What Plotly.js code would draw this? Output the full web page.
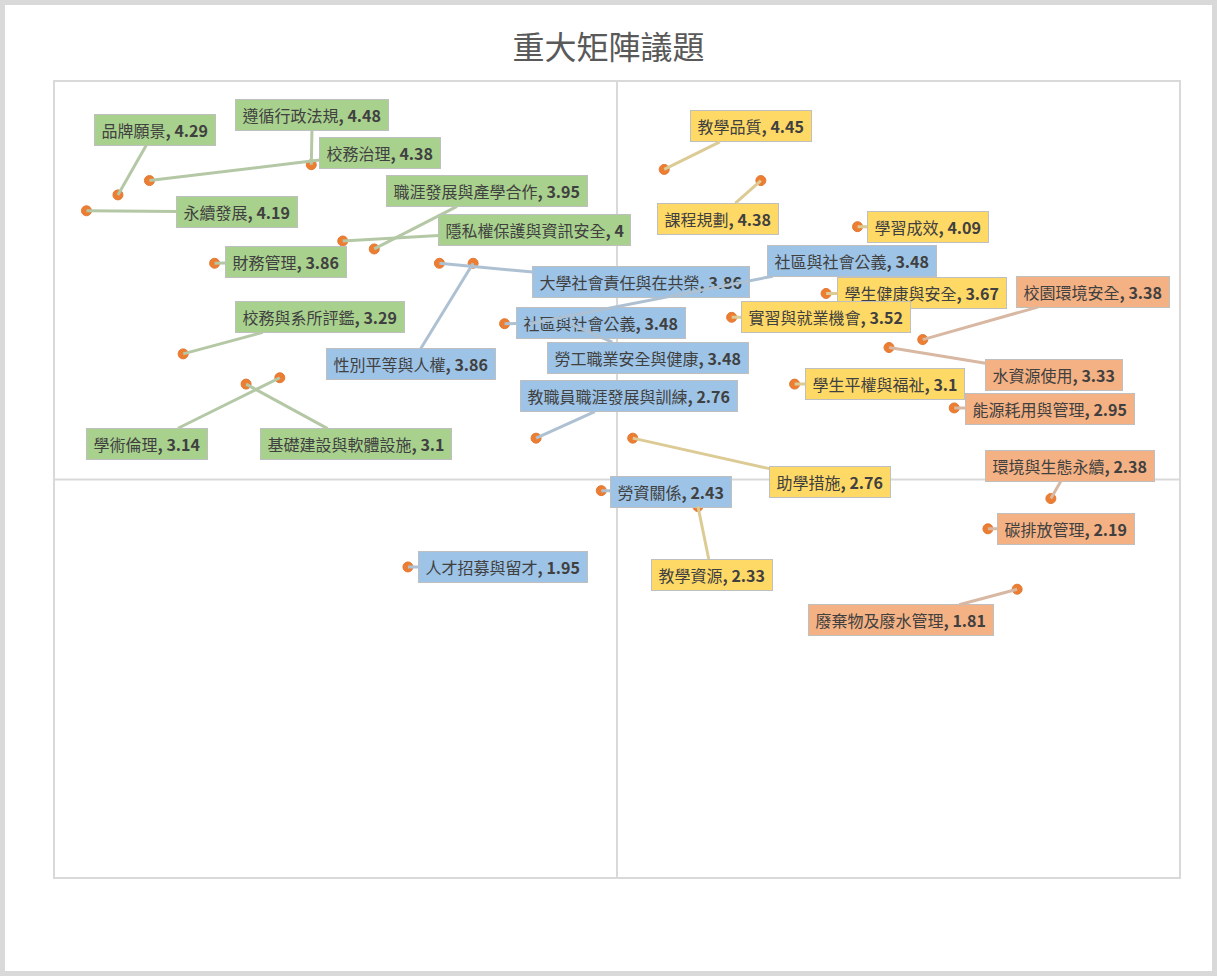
<!DOCTYPE html>
<html>
<head>
<meta charset="utf-8">
<script src="https://cdn.plot.ly/plotly-3.0.1.min.js"></script>
<style>
html,body{margin:0;padding:0;background:#fff;}
#wrap{width:1217px;height:976px;box-sizing:border-box;border:5px solid #d9d9d9;background:#fff;}
#chart{width:1207px;height:966px;}
</style>
</head>
<body>
<div id="wrap"><div id="chart"></div></div>
<script>
// ---- data ----
const issueNames = [
  "品牌願景","遵循行政法規","校務治理","永續發展","職涯發展與產學合作","隱私權保護與資訊安全",
  "財務管理","校務與系所評鑑","學術倫理","基礎建設與軟體設施",
  "大學社會責任與在共榮","性別平等與人權","社區與社會公義","社區與社會公義","勞工職業安全與健康",
  "教職員職涯發展與訓練","勞資關係","人才招募與留才",
  "教學品質","課程規劃","學習成效","學生健康與安全","實習與就業機會","學生平權與福祉","助學措施","教學資源",
  "校園環境安全","水資源使用","能源耗用與管理","環境與生態永續","碳排放管理","廢棄物及廢水管理"
];
const xValues = [
  0.28,1.14,0.42,0.14,1.42,1.28,
  0.71,0.57,1.00,0.85,
  1.71,1.86,2.00,2.11,2.29,
  2.14,2.43,1.57,
  2.71,3.14,3.57,3.43,3.01,3.29,2.57,2.86,
  3.86,3.71,4.00,4.43,4.15,4.28
];
const yValues = [
  4.29,4.48,4.38,4.19,3.95,4,
  3.86,3.29,3.14,3.1,
  3.86,3.86,3.48,3.48,3.48,
  2.76,2.43,1.95,
  4.45,4.38,4.09,3.67,3.52,3.1,2.76,2.33,
  3.38,3.33,2.95,2.38,2.19,1.81
];
const groups = [
  "治理","治理","治理","治理","治理","治理",
  "治理","治理","治理","治理",
  "社會","社會","社會","社會","社會",
  "社會","社會","社會",
  "教學","教學","教學","教學","教學","教學","教學","教學",
  "環境","環境","環境","環境","環境","環境"
];

// ---- styling / label placement (pixel offsets of label centre from point) ----
const labelOffsets = [
  [37,-65],[1,-50],[231,-28],[151,1],[113,-58],[192,-11],
  [71,-1],[137,-37],[-133,66],[110,60],
  [202,19],[-62,101],[96,-1],[323,-63],[78,34],
  [93,-42],[70,1],[95,0],
  [87,-43],[-43,38],[70,0],[96,0],[94,0],[90,0],[197,44],[14,68],
  [170,-48],[165,27],[96,1],[19,-33],[78,0],[-116,31]
];
const groupStyle = {
  "治理": {bg:"#A9D18E", arrow:"#B4C8A6"},
  "社會": {bg:"#9DC3E6", arrow:"#AEC1D2"},
  "教學": {bg:"#FFD966", arrow:"#DCCB95"},
  "環境": {bg:"#F4B183", arrow:"#D8B8A2"}
};

const trace = {
  type: "scatter",
  mode: "markers",
  x: xValues,
  y: yValues,
  text: issueNames,
  hoverinfo: "text",
  marker: {color: "#ED7D31", size: 10, line: {color: "#E07A36", width: 1}},
  showlegend: false
};

const annotations = issueNames.map((n, i) => {
  const st = groupStyle[groups[i]];
  return {
    x: xValues[i], y: yValues[i], xref: "x", yref: "y",
    text: "\u00a0" + n + "<b>, " + String(yValues[i]) + "</b>\u00a0",
    showarrow: true, arrowhead: 0, arrowwidth: 3, arrowcolor: st.arrow,
    ax: labelOffsets[i][0], ay: labelOffsets[i][1],
    bgcolor: st.bg, bordercolor: "#BFBFBF", borderwidth: 1, borderpad: 3,
    font: {family: "Noto Sans CJK TC, Noto Sans, sans-serif", size: 16, color: "#404040"}
  };
});

const layout = {
  width: 1207, height: 966,
  margin: {l: 50, r: 33, t: 77, b: 94},
  paper_bgcolor: "#ffffff", plot_bgcolor: "#ffffff",
  title: {
    text: "重大矩陣議題",
    font: {family: "Noto Sans CJK TC, sans-serif", size: 32, color: "#595959"},
    xref: "container", x: 0.5, yref: "container", y: 0.956, yanchor: "middle"
  },
  xaxis: {range: [0, 5], showgrid: false, zeroline: false, showticklabels: false, ticks: "",
          showline: true, mirror: true, linecolor: "#D9D9D9", linewidth: 2, fixedrange: true},
  yaxis: {range: [0, 5], showgrid: false, zeroline: false, showticklabels: false, ticks: "",
          showline: true, mirror: true, linecolor: "#D9D9D9", linewidth: 2, fixedrange: true},
  shapes: [
    {type: "line", xref: "x", yref: "y", x0: 2.5, x1: 2.5, y0: 0, y1: 5, layer: "below", line: {color: "#D9D9D9", width: 2}},
    {type: "line", xref: "x", yref: "y", x0: 0, x1: 5, y0: 2.5, y1: 2.5, layer: "below", line: {color: "#D9D9D9", width: 2}}
  ],
  annotations: annotations,
  showlegend: false
};

Plotly.newPlot("chart", [trace], layout, {displayModeBar: false, staticPlot: true});
</script>
</body>
</html>
